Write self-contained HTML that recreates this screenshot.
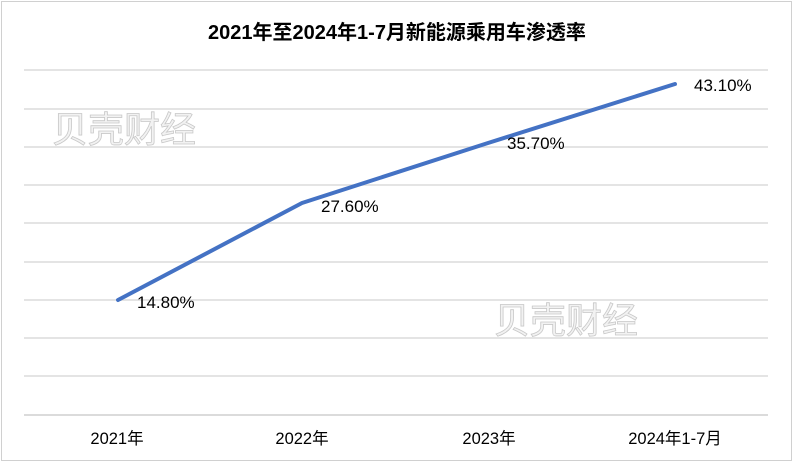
<!DOCTYPE html>
<html><head><meta charset="utf-8"><style>
html,body{margin:0;padding:0;background:#fff;}
body{width:793px;height:462px;position:relative;overflow:hidden;font-family:"Liberation Sans","Noto Sans CJK SC",sans-serif;}
.frame{position:absolute;left:1px;top:1px;width:789px;height:458px;border:1px solid #d0d0d0;}
</style></head><body>
<div class="frame"></div>
<svg width="793" height="462" style="position:absolute;left:0;top:0">
<text x="397" y="39" text-anchor="middle" font-size="20" font-weight="bold" fill="#000" font-family="Liberation Sans,Noto Sans CJK SC,sans-serif">2021年至2024年1-7月新能源乘用车渗透率</text>
<g stroke="#dcdcdc" stroke-width="1.5">
<line x1="24" x2="768" y1="70" y2="70"/><line x1="24" x2="768" y1="109" y2="109"/>
<line x1="24" x2="768" y1="147" y2="147"/><line x1="24" x2="768" y1="185" y2="185"/>
<line x1="24" x2="768" y1="223" y2="223"/><line x1="24" x2="768" y1="262" y2="262"/>
<line x1="24" x2="768" y1="300" y2="300"/><line x1="24" x2="768" y1="338" y2="338"/>
<line x1="24" x2="768" y1="376" y2="376"/>
</g>
<line x1="24" x2="768" y1="415" y2="415" stroke="#cfcfcf" stroke-width="1.5"/>
<g font-size="36" fill="#f2f2f2" stroke="#c8c8c8" stroke-width="0.8" font-family="Noto Sans CJK SC,sans-serif">
<text x="52" y="142">贝壳财经</text>
<text x="494" y="333">贝壳财经</text>
</g>
<polyline points="118,300 302,203 488,143 675,84" fill="none" stroke="#4472c4" stroke-width="4" stroke-linecap="round" stroke-linejoin="round"/>
<g font-size="17" fill="#000" font-family="Liberation Sans,Noto Sans CJK SC,sans-serif">
<text x="137" y="308">14.80%</text>
<text x="321" y="212">27.60%</text>
<text x="507" y="149">35.70%</text>
<text x="694" y="91">43.10%</text>
<g text-anchor="middle" font-size="16.5">
<text x="117" y="444">2021年</text>
<text x="302" y="444">2022年</text>
<text x="489" y="444">2023年</text>
<text x="675" y="444">2024年1-7月</text>
</g></g>
</svg>
</body></html>
